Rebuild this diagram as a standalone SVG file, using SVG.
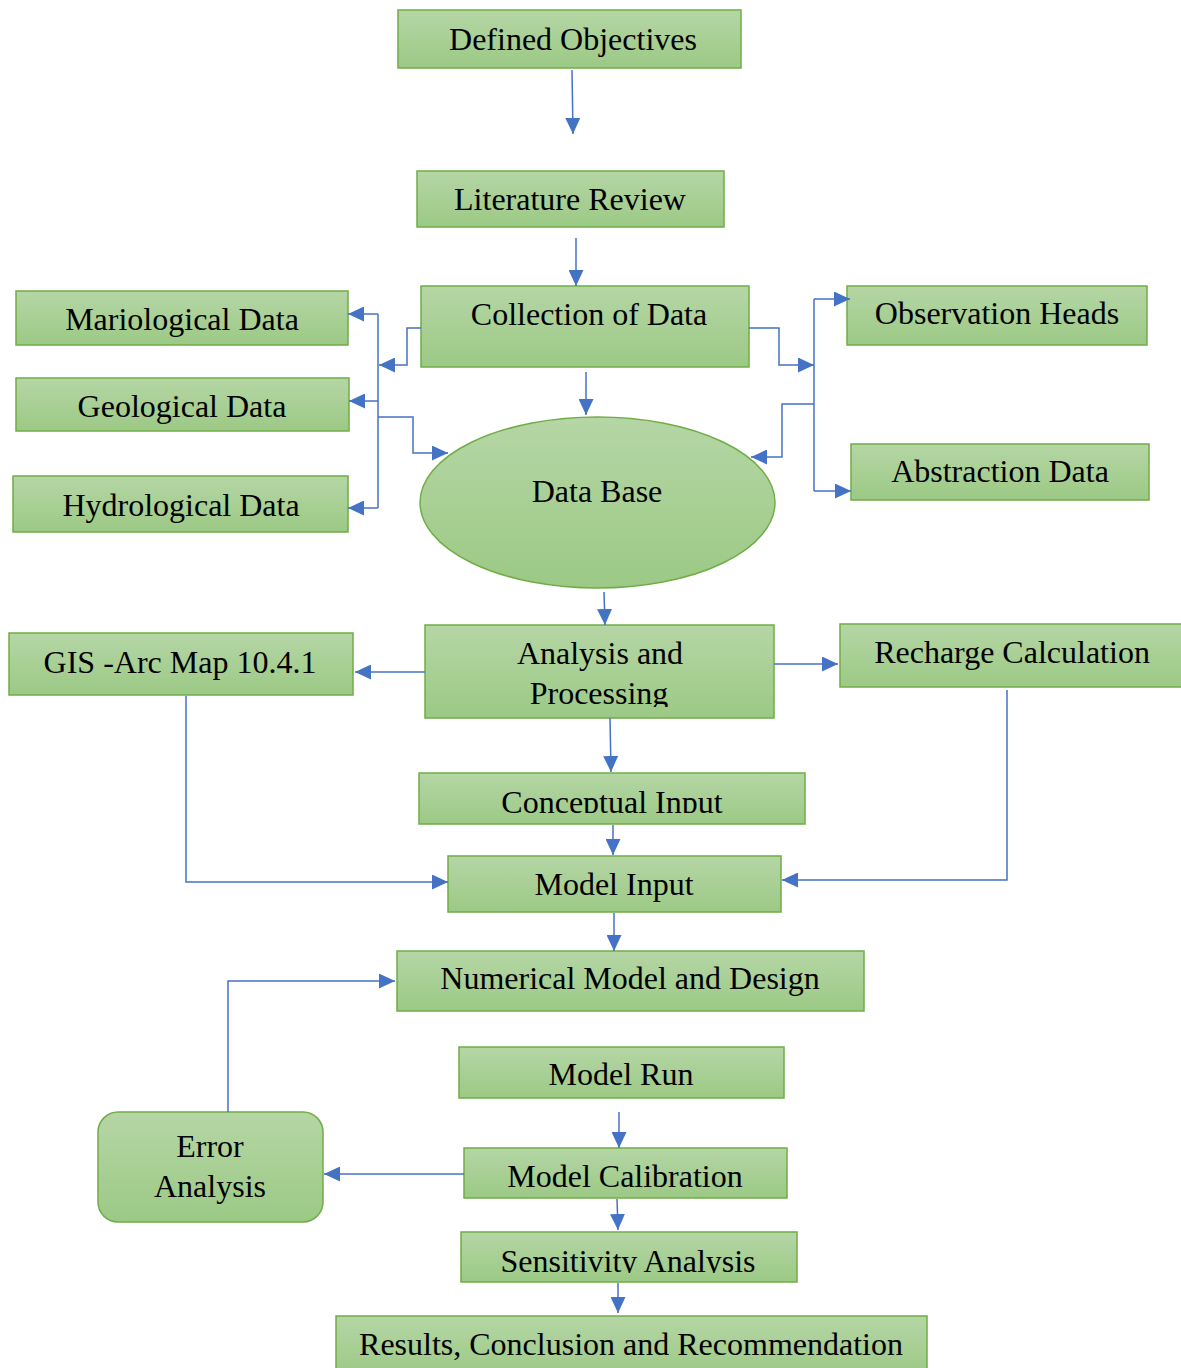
<svg xmlns="http://www.w3.org/2000/svg" width="1181" height="1368" viewBox="0 0 1181 1368">
<defs>
<linearGradient id="g" x1="0" y1="0" x2="0" y2="1">
<stop offset="0" stop-color="#b5d6a5"/>
<stop offset="1" stop-color="#9cc985"/>
</linearGradient>
<marker id="ah" markerUnits="userSpaceOnUse" markerWidth="16" markerHeight="15" viewBox="0 0 16 15" refX="16" refY="7.5" orient="auto">
<path d="M0,0 L16,7.5 L0,15 z" fill="#4472c4"/>
</marker>
<clipPath id="cProc"><rect x="425" y="625" width="349" height="82"/></clipPath>
<clipPath id="cConc"><rect x="419" y="773" width="386" height="40"/></clipPath>
<clipPath id="cSens"><rect x="461" y="1232" width="336" height="41"/></clipPath>
<style>
.box{fill:url(#g);stroke:#70ad47;stroke-width:1.5}
.t{font-family:"Liberation Serif","Times New Roman",serif;font-size:32px;fill:#000;text-anchor:middle}
.c{fill:none;stroke:#4472c4;stroke-width:1.5}
.a{marker-end:url(#ah)}
</style>
</defs>
<rect width="1181" height="1368" fill="#fff"/>

<g id="defined-objectives"><rect class="box" x="398" y="10" width="343" height="58"/><text class="t" x="573" y="50">Defined Objectives</text></g>
<g id="literature-review"><rect class="box" x="417" y="171" width="307" height="56"/><text class="t" x="570" y="210">Literature Review</text></g>
<g id="collection-of-data"><rect class="box" x="421" y="286" width="328" height="81"/><text class="t" x="589" y="325">Collection of Data</text></g>
<g id="mariological-data"><rect class="box" x="16" y="291" width="332" height="54"/><text class="t" x="182" y="330">Mariological Data</text></g>
<g id="geological-data"><rect class="box" x="16" y="378" width="333" height="53"/><text class="t" x="182" y="417">Geological Data</text></g>
<g id="hydrological-data"><rect class="box" x="13" y="476" width="335" height="56"/><text class="t" x="181" y="516">Hydrological Data</text></g>
<g id="observation-heads"><rect class="box" x="847" y="286" width="300" height="59"/><text class="t" x="997" y="324">Observation Heads</text></g>
<g id="abstraction-data"><rect class="box" x="851" y="444" width="298" height="56"/><text class="t" x="1000" y="482">Abstraction Data</text></g>
<g id="data-base"><ellipse class="box" cx="597.5" cy="502.5" rx="177.5" ry="85.5"/><text class="t" x="597" y="502">Data Base</text></g>
<g id="gis-arc-map"><rect class="box" x="9" y="633" width="344" height="62"/><text class="t" x="180" y="673">GIS -Arc Map 10.4.1</text></g>
<g id="analysis-processing"><rect class="box" x="425" y="625" width="349" height="93"/><text class="t" x="600" y="664">Analysis and</text><text class="t" x="599" y="704" clip-path="url(#cProc)">Processing</text></g>
<g id="recharge-calculation"><rect class="box" x="840" y="624" width="343" height="63"/><text class="t" x="1012" y="663">Recharge Calculation</text></g>
<g id="conceptual-input"><rect class="box" x="419" y="773" width="386" height="51"/><text class="t" x="612" y="813" clip-path="url(#cConc)">Conceptual Input</text></g>
<g id="model-input"><rect class="box" x="448" y="856" width="333" height="56"/><text class="t" x="614" y="895">Model Input</text></g>
<g id="numerical-model"><rect class="box" x="397" y="951" width="467" height="60"/><text class="t" x="630" y="989">Numerical Model and Design</text></g>
<g id="model-run"><rect class="box" x="459" y="1047" width="325" height="51"/><text class="t" x="621" y="1085">Model Run</text></g>
<g id="model-calibration"><rect class="box" x="464" y="1148" width="323" height="50"/><text class="t" x="625" y="1187">Model Calibration</text></g>
<g id="error-analysis"><rect class="box" x="98" y="1112" width="225" height="110" rx="20" ry="20"/><text class="t" x="210" y="1157">Error</text><text class="t" x="210" y="1197">Analysis</text></g>
<g id="sensitivity-analysis"><rect class="box" x="461" y="1232" width="336" height="50"/><text class="t" x="628" y="1272" clip-path="url(#cSens)">Sensitivity Analysis</text></g>
<g id="results"><rect class="box" x="336" y="1316" width="591" height="60"/><text class="t" x="631" y="1355">Results, Conclusion and Recommendation</text></g>

<g id="connectors">
<path class="c a" d="M572,70 L573,134"/>
<path class="c a" d="M576,238 V286"/>
<path class="c a" d="M586,372 V415"/>
<path class="c a" d="M421,328 H407 V365 H379"/>
<path class="c" d="M378,314 V508"/>
<path class="c a" d="M378,314 H348"/>
<path class="c a" d="M378,401 H349"/>
<path class="c a" d="M378,508 H348"/>
<path class="c a" d="M378,417 H413 V453 H448"/>
<path class="c a" d="M749,328 H779 V365 H814"/>
<path class="c" d="M814,299 V491"/>
<path class="c a" d="M814,299 H850"/>
<path class="c a" d="M814,491 H851"/>
<path class="c a" d="M814,404 H782 V457 H751"/>
<path class="c a" d="M604,592 L605,625"/>
<path class="c a" d="M425,672 H355"/>
<path class="c a" d="M774,664 H838"/>
<path class="c a" d="M610,718 L611,772"/>
<path class="c a" d="M613,825 V855"/>
<path class="c a" d="M186,696 V882 H448"/>
<path class="c a" d="M1007,690 V880 H782"/>
<path class="c a" d="M614,913 V951"/>
<path class="c a" d="M228,1112 V981 H395"/>
<path class="c a" d="M619,1112 V1148"/>
<path class="c a" d="M464,1174 H324"/>
<path class="c a" d="M617,1199 L618,1230"/>
<path class="c a" d="M618,1283 V1313"/>
</g>
</svg>
